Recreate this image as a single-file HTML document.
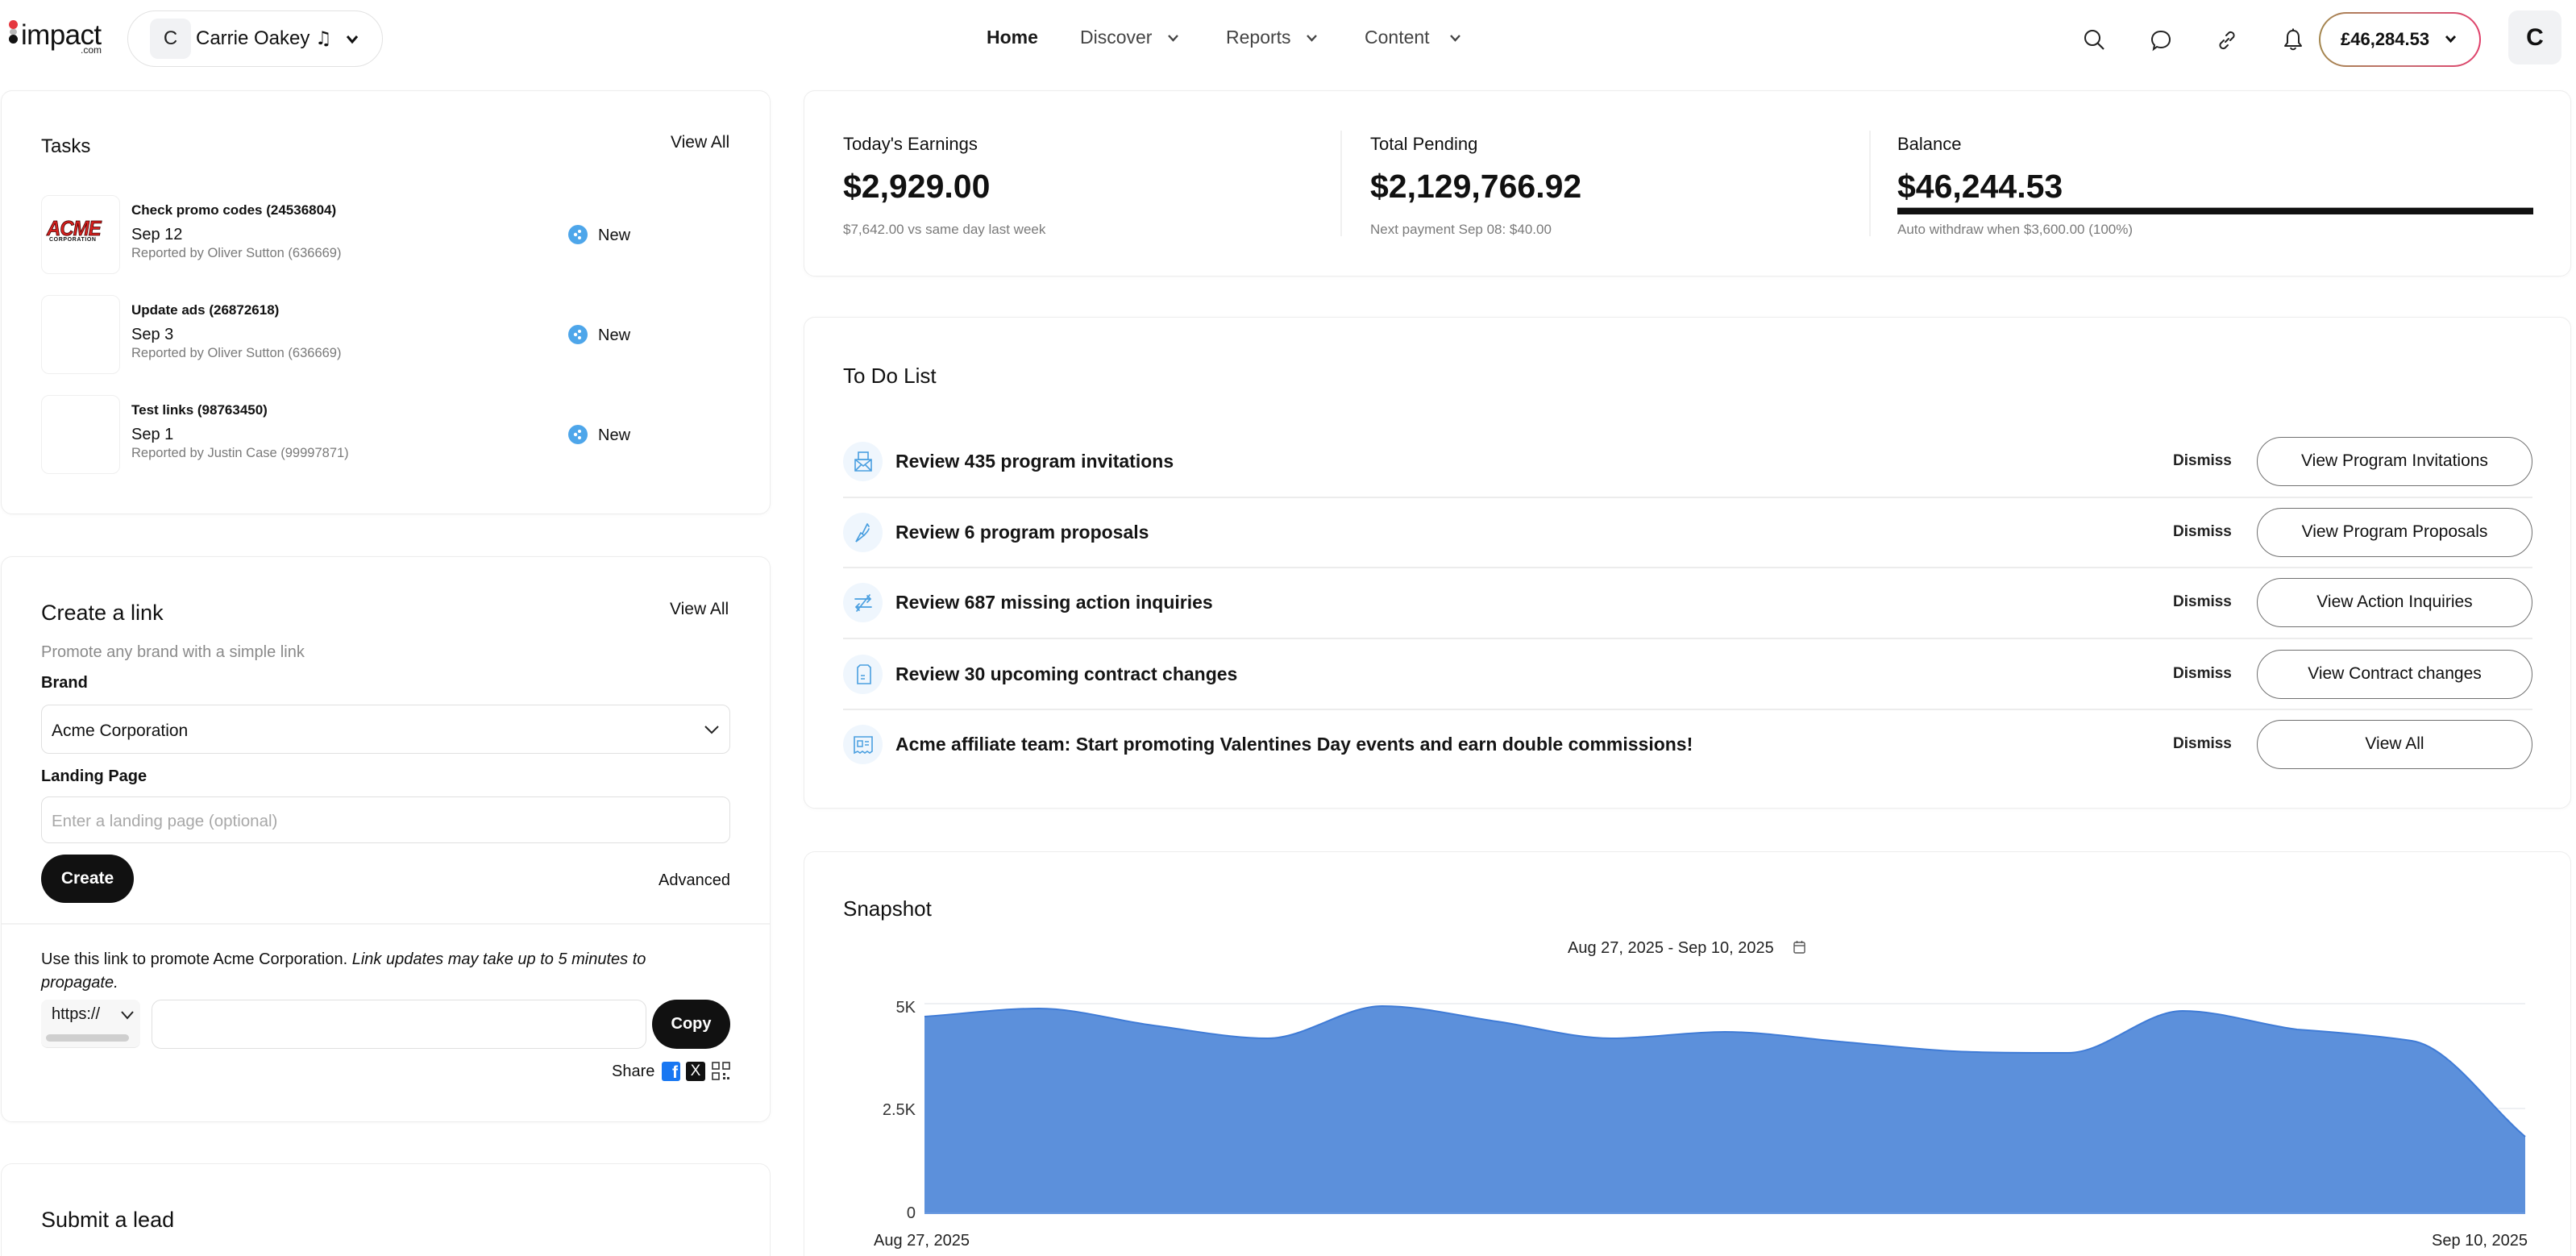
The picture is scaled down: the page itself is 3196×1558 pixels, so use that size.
<!DOCTYPE html>
<html><head><meta charset="utf-8">
<style>
*{margin:0;padding:0;box-sizing:border-box}
html,body{width:3196px;height:1558px;overflow:hidden;background:#fff;font-family:"Liberation Sans",Arial,sans-serif;color:#111}
#wrap{position:relative;width:3196px;height:1558px;overflow:hidden;background:#fff}
.a{position:absolute}
.t{position:absolute;white-space:nowrap;line-height:1}
.card{position:absolute;background:#fff;border:1.5px solid #ededed;border-radius:14px;box-shadow:0 1px 4px rgba(0,0,0,0.03)}
.open{border-bottom:none;border-radius:14px 14px 0 0;box-shadow:none}
.b{font-weight:bold}
.g{color:#7a7a7a}
.sep{position:absolute;left:1046px;width:2096px;height:2px;background:#ececec}
.btn{position:absolute;left:2800px;width:342px;height:61px;border:1.5px solid #707070;border-radius:31px;font-size:21px;line-height:58px;text-align:center;color:#111;background:#fff}
.dis{position:absolute;left:2696px;font-size:19px;font-weight:bold;line-height:1;color:#222}
.ic{position:absolute;left:1046px;width:49px;height:49px;border-radius:50%;background:#eff6fd}
.rowt{position:absolute;left:1111px;font-size:23px;font-weight:bold;line-height:1;white-space:nowrap;color:#151515}
.nw{position:absolute;left:705px;width:24px;height:24px;border-radius:50%;background:#4ea6ea}
.tb{position:absolute;left:51px;width:98px;height:98px;border:1.5px solid #efefef;border-radius:10px;background:#fff}
</style></head><body><div id="wrap">

<!-- HEADER -->
<div class="a" style="left:11px;top:25px;width:11px;height:11px;border-radius:50%;background:#e5383f"></div>
<div class="a" style="left:12px;top:36px;width:9px;height:7px;border-radius:4px;background:#b9b9b9"></div>
<div class="a" style="left:11px;top:43px;width:11px;height:11px;border-radius:50%;background:#111"></div>
<div class="t" style="left:26px;top:26px;font-size:35px;letter-spacing:-0.6px;color:#111">impact</div>
<div class="t" style="left:100px;top:56px;font-size:12px;color:#222">.com</div>

<div class="a" style="left:158px;top:13px;width:317px;height:70px;border:1.5px solid #e2e2e2;border-radius:35px"></div>
<div class="a" style="left:186px;top:23px;width:51px;height:50px;background:#f1f2f4;border-radius:10px;font-size:24px;line-height:50px;text-align:center;color:#222">C</div>
<div class="t" style="left:243px;top:36px;font-size:24px;color:#111">Carrie Oakey <span style="font-family:'DejaVu Sans',sans-serif;font-size:23px">♫</span></div>
<svg class="a" style="left:429px;top:43px" width="16" height="12" viewBox="0 0 16 12"><polyline points="2,2 8,9 14,2" fill="none" stroke="#111" stroke-width="3"/></svg>

<div class="t b" style="left:1224px;top:35px;font-size:23px;color:#1a1a1a">Home</div>
<div class="t" style="left:1340px;top:35px;font-size:23px;color:#444">Discover</div>
<svg class="a" style="left:1448px;top:42px" width="15" height="10" viewBox="0 0 15 10"><polyline points="2,2 7.5,8 13,2" fill="none" stroke="#444" stroke-width="2.4"/></svg>
<div class="t" style="left:1521px;top:35px;font-size:23px;color:#444">Reports</div>
<svg class="a" style="left:1620px;top:42px" width="15" height="10" viewBox="0 0 15 10"><polyline points="2,2 7.5,8 13,2" fill="none" stroke="#444" stroke-width="2.4"/></svg>
<div class="t" style="left:1693px;top:35px;font-size:23px;color:#444">Content</div>
<svg class="a" style="left:1798px;top:42px" width="15" height="10" viewBox="0 0 15 10"><polyline points="2,2 7.5,8 13,2" fill="none" stroke="#444" stroke-width="2.4"/></svg>

<!-- right icons -->
<svg class="a" style="left:2584px;top:35px" width="30" height="30" viewBox="0 0 30 30"><circle cx="12" cy="12" r="9" fill="none" stroke="#222" stroke-width="2"/><line x1="18.5" y1="18.5" x2="26" y2="26" stroke="#222" stroke-width="2.2"/></svg>
<svg class="a" style="left:2666px;top:35px" width="30" height="30" viewBox="0 0 30 30"><path d="M15 4 C22 4 26 8.5 26 14 C26 19.5 22 24 15 24 C13 24 11.5 23.6 10 23 L6 26 L7 21 C5 19 4 16.6 4 14 C4 8.5 8 4 15 4 Z" fill="none" stroke="#222" stroke-width="2"/></svg>
<svg class="a" style="left:2748px;top:35px" width="30" height="30" viewBox="0 0 30 30"><path d="M13 17 L17 13 M11 15 L7 19 A4 4 0 0 0 12.5 24.5 L16 21 M19 15 L23 11 A4 4 0 0 0 17.5 5.5 L14 9" fill="none" stroke="#222" stroke-width="2" stroke-linecap="round"/></svg>
<svg class="a" style="left:2830px;top:34px" width="30" height="32" viewBox="0 0 30 32"><path d="M15 4 C10 4 8 8 8 12 L8 19 L5 23 L25 23 L22 19 L22 12 C22 8 20 4 15 4 Z" fill="none" stroke="#222" stroke-width="2" stroke-linejoin="round"/><path d="M12 25 C12.5 28 17.5 28 18 25" fill="none" stroke="#222" stroke-width="2"/><line x1="15" y1="1.5" x2="15" y2="4" stroke="#222" stroke-width="2"/></svg>

<div class="a" style="left:2877px;top:15px;width:201px;height:68px;border-radius:34px;border:2px solid transparent;background:linear-gradient(#fff,#fff) padding-box,linear-gradient(90deg,#a3874e,#c86a72 55%,#e0406a) border-box"></div>
<div class="t b" style="left:2904px;top:38px;font-size:22px;color:#111">£46,284.53</div>
<svg class="a" style="left:3033px;top:43px" width="15" height="11" viewBox="0 0 15 11"><polyline points="2,2 7.5,8 13,2" fill="none" stroke="#111" stroke-width="2.8"/></svg>
<div class="a b" style="left:3112px;top:13px;width:66px;height:67px;background:#f1f2f4;border-radius:12px;font-size:30px;line-height:67px;text-align:center;color:#111">C</div>

<!-- LEFT: TASKS -->
<div class="card" style="left:1px;top:112px;width:955px;height:526px"></div>
<div class="t" style="left:51px;top:170px;font-size:24px">Tasks</div>
<div class="t" style="left:832px;top:166px;font-size:21px">View All</div>

<div class="tb" style="top:242px"></div>
<div class="t b" style="left:58px;top:270px;font-size:26px;font-style:italic;color:#d9211f;letter-spacing:-1px;transform:scaleX(0.92);transform-origin:left;-webkit-text-stroke:0.8px #3a0000">ACME</div>
<div class="t b" style="left:61px;top:294px;font-size:7px;letter-spacing:0.6px;color:#111">CORPORATION</div>
<div class="tb" style="top:366px"></div>
<div class="tb" style="top:490px"></div>

<div class="t b" style="left:163px;top:252px;font-size:17px">Check promo codes (24536804)</div>
<div class="t" style="left:163px;top:281px;font-size:20px">Sep 12</div>
<div class="t g" style="left:163px;top:306px;font-size:16.5px">Reported by Oliver Sutton (636669)</div>
<div class="t b" style="left:163px;top:376px;font-size:17px">Update ads (26872618)</div>
<div class="t" style="left:163px;top:405px;font-size:20px">Sep 3</div>
<div class="t g" style="left:163px;top:430px;font-size:16.5px">Reported by Oliver Sutton (636669)</div>
<div class="t b" style="left:163px;top:500px;font-size:17px">Test links (98763450)</div>
<div class="t" style="left:163px;top:529px;font-size:20px">Sep 1</div>
<div class="t g" style="left:163px;top:554px;font-size:16.5px">Reported by Justin Case (99997871)</div>

<div class="nw" style="top:279px"></div><div class="t" style="left:742px;top:282px;font-size:20px">New</div>
<div class="nw" style="top:403px"></div><div class="t" style="left:742px;top:406px;font-size:20px">New</div>
<div class="nw" style="top:527px"></div><div class="t" style="left:742px;top:530px;font-size:20px">New</div>
<svg class="a" style="left:705px;top:279px" width="24" height="24"><circle cx="9" cy="12" r="2.2" fill="#fff"/><circle cx="14" cy="8" r="2" fill="#fff"/><circle cx="14" cy="16" r="2" fill="#fff"/></svg>
<svg class="a" style="left:705px;top:403px" width="24" height="24"><circle cx="9" cy="12" r="2.2" fill="#fff"/><circle cx="14" cy="8" r="2" fill="#fff"/><circle cx="14" cy="16" r="2" fill="#fff"/></svg>
<svg class="a" style="left:705px;top:527px" width="24" height="24"><circle cx="9" cy="12" r="2.2" fill="#fff"/><circle cx="14" cy="8" r="2" fill="#fff"/><circle cx="14" cy="16" r="2" fill="#fff"/></svg>

<!-- LEFT: CREATE A LINK -->
<div class="card" style="left:1px;top:690px;width:955px;height:702px"></div>
<div class="t" style="left:51px;top:747px;font-size:27px">Create a link</div>
<div class="t" style="left:831px;top:745px;font-size:21px">View All</div>
<div class="t" style="left:51px;top:799px;font-size:20px;color:#8a8a8a">Promote any brand with a simple link</div>
<div class="t b" style="left:51px;top:837px;font-size:20px">Brand</div>
<div class="a" style="left:51px;top:874px;width:855px;height:61px;border:1.5px solid #e0e0e0;border-radius:10px"></div>
<div class="t" style="left:64px;top:896px;font-size:21px">Acme Corporation</div>
<svg class="a" style="left:873px;top:899px" width="20" height="13" viewBox="0 0 20 13"><polyline points="2,2 10,10 18,2" fill="none" stroke="#222" stroke-width="2"/></svg>
<div class="t b" style="left:51px;top:953px;font-size:20px">Landing Page</div>
<div class="a" style="left:51px;top:988px;width:855px;height:58px;border:1.5px solid #e0e0e0;border-radius:10px"></div>
<div class="t" style="left:64px;top:1009px;font-size:20.5px;color:#a8a8a8">Enter a landing page (optional)</div>
<div class="a b" style="left:51px;top:1060px;width:115px;height:60px;border-radius:30px;background:#111;color:#fff;font-size:21px;line-height:60px;text-align:center">Create</div>
<div class="t" style="left:817px;top:1082px;font-size:20px">Advanced</div>
<div class="a" style="left:2px;top:1145px;width:953px;height:1.5px;background:#f2f2f2"></div>
<div class="a" style="left:51px;top:1176px;font-size:20px;line-height:29px;white-space:nowrap">Use this link to promote Acme Corporation. <i>Link updates may take up to 5 minutes to</i><br><i>propagate.</i></div>
<div class="a" style="left:51px;top:1240px;width:123px;height:60px;border-radius:8px;background:#f7f7f7;border-bottom:1.5px solid #e8e8e8"></div>
<div class="t" style="left:64px;top:1248px;font-size:20px">https://</div>
<svg class="a" style="left:149px;top:1253px" width="18" height="12" viewBox="0 0 18 12"><polyline points="2,2 9,10 16,2" fill="none" stroke="#222" stroke-width="2"/></svg>
<div class="a" style="left:57px;top:1283px;width:103px;height:9px;border-radius:5px;background:#cfcfcf"></div>
<div class="a" style="left:188px;top:1240px;width:614px;height:61px;border:1.5px solid #e0e0e0;border-radius:12px"></div>
<div class="a b" style="left:809px;top:1240px;width:97px;height:61px;border-radius:31px;background:#111;color:#fff;font-size:20px;line-height:61px;text-align:center">Copy</div>
<div class="t" style="left:759px;top:1319px;font-size:20px">Share</div>
<div class="a" style="left:821px;top:1317px;width:23px;height:24px;background:#1877f2;border-radius:3px;color:#fff;font-weight:bold;font-size:21px;line-height:28px;text-align:right;padding-right:3px;overflow:hidden">f</div>
<div class="a" style="left:851px;top:1317px;width:24px;height:24px;background:#111;border-radius:3px;color:#fff;font-size:19px;line-height:24px;text-align:center">X</div>
<svg class="a" style="left:883px;top:1317px" width="23" height="24" viewBox="0 0 23 24"><rect x="1" y="1" width="8" height="8" fill="none" stroke="#333" stroke-width="1.6"/><rect x="14" y="1" width="8" height="8" fill="none" stroke="#333" stroke-width="1.6"/><rect x="1" y="14" width="8" height="8" fill="none" stroke="#333" stroke-width="1.6"/><rect x="14" y="14" width="3" height="3" fill="#333"/><rect x="19" y="19" width="3" height="3" fill="#333"/><rect x="14" y="19" width="3" height="3" fill="#333"/></svg>

<!-- LEFT: SUBMIT A LEAD -->
<div class="card open" style="left:1px;top:1443px;width:955px;height:115px"></div>
<div class="t" style="left:51px;top:1500px;font-size:27px">Submit a lead</div>

<!-- RIGHT: EARNINGS -->
<div class="card" style="left:997px;top:112px;width:2193px;height:231px"></div>
<div class="a" style="left:1663px;top:162px;width:1.5px;height:131px;background:#f0f0f0"></div>
<div class="a" style="left:2319px;top:162px;width:1.5px;height:131px;background:#f0f0f0"></div>
<div class="t" style="left:1046px;top:168px;font-size:22px">Today's Earnings</div>
<div class="t b" style="left:1046px;top:211px;font-size:41px">$2,929.00</div>
<div class="t g" style="left:1046px;top:276px;font-size:17px">$7,642.00 vs same day last week</div>
<div class="t" style="left:1700px;top:168px;font-size:22px">Total Pending</div>
<div class="t b" style="left:1700px;top:211px;font-size:41px">$2,129,766.92</div>
<div class="t g" style="left:1700px;top:276px;font-size:17px">Next payment Sep 08: $40.00</div>
<div class="t" style="left:2354px;top:168px;font-size:22px">Balance</div>
<div class="t b" style="left:2354px;top:211px;font-size:41px">$46,244.53</div>
<div class="a" style="left:2354px;top:257px;width:789px;height:9px;background:#111;border-top:1.5px solid #aaa"></div>
<div class="t g" style="left:2354px;top:276px;font-size:17px">Auto withdraw when $3,600.00 (100%)</div>

<!-- RIGHT: TO DO -->
<div class="card" style="left:997px;top:393px;width:2193px;height:610px"></div>
<div class="t" style="left:1046px;top:453px;font-size:26px">To Do List</div>

<div class="sep" style="top:616px"></div>
<div class="sep" style="top:703px"></div>
<div class="sep" style="top:791px"></div>
<div class="sep" style="top:879px"></div>

<div class="ic" style="top:548px"></div>
<svg class="a" style="left:1058px;top:559px" width="26" height="27" viewBox="0 0 26 27"><rect x="7" y="2" width="12" height="9" fill="none" stroke="#4a9fe0" stroke-width="1.6"/><path d="M3 11 L3 25 L23 25 L23 11 Z M3 11 L13 19 L23 11 M3 25 L11 17 M23 25 L15 17" fill="none" stroke="#4a9fe0" stroke-width="1.6"/></svg>
<div class="rowt" style="top:561px">Review 435 program invitations</div>
<div class="dis" style="top:562px">Dismiss</div>
<div class="btn" style="top:542px">View Program Invitations</div>

<div class="ic" style="top:636px"></div>
<svg class="a" style="left:1058px;top:647px" width="26" height="27" viewBox="0 0 26 27"><path d="M4 25 L10 14 L14 17 Z M12 15 L18 3 M18 3 L20 6 M14 17 C17 14 19 12 20 9" fill="none" stroke="#4a9fe0" stroke-width="1.7" stroke-linecap="round"/></svg>
<div class="rowt" style="top:649px">Review 6 program proposals</div>
<div class="dis" style="top:650px">Dismiss</div>
<div class="btn" style="top:630px">View Program Proposals</div>

<div class="ic" style="top:723px"></div>
<svg class="a" style="left:1058px;top:735px" width="26" height="26" viewBox="0 0 26 26"><path d="M3 8 L22 8 M18 4 L22 8 L18 12 M23 18 L4 18 M8 14 L4 18 L8 22 M5 23 L21 3" fill="none" stroke="#4a9fe0" stroke-width="1.7" stroke-linecap="round"/></svg>
<div class="rowt" style="top:736px">Review 687 missing action inquiries</div>
<div class="dis" style="top:737px">Dismiss</div>
<div class="btn" style="top:717px">View Action Inquiries</div>

<div class="ic" style="top:812px"></div>
<svg class="a" style="left:1059px;top:823px" width="24" height="27" viewBox="0 0 24 27"><path d="M8 2 L18 2 L21 5 L21 25 L5 25 L5 5 Z" fill="none" stroke="#4a9fe0" stroke-width="1.6"/><path d="M9 15 L14 15 M9 19 L14 19" stroke="#4a9fe0" stroke-width="1.6"/></svg>
<div class="rowt" style="top:825px">Review 30 upcoming contract changes</div>
<div class="dis" style="top:826px">Dismiss</div>
<div class="btn" style="top:806px">View Contract changes</div>

<div class="ic" style="top:899px"></div>
<svg class="a" style="left:1057px;top:911px" width="28" height="26" viewBox="0 0 28 26"><path d="M3 3 L25 3 L25 21 L22 23 L19 21 L16 23 L13 21 L10 23 L7 21 L3 23 Z" fill="none" stroke="#4a9fe0" stroke-width="1.6"/><rect x="7" y="8" width="6" height="7" fill="none" stroke="#4a9fe0" stroke-width="1.5"/><path d="M16 9 L21 9 M16 13 L21 13" stroke="#4a9fe0" stroke-width="1.5"/></svg>
<div class="rowt" style="top:912px">Acme affiliate team: Start promoting Valentines Day events and earn double commissions!</div>
<div class="dis" style="top:913px">Dismiss</div>
<div class="btn" style="top:893px">View All</div>

<!-- RIGHT: SNAPSHOT -->
<div class="card open" style="left:997px;top:1056px;width:2193px;height:502px"></div>
<div class="t" style="left:1046px;top:1114px;font-size:26px">Snapshot</div>
<div class="t" style="left:1945px;top:1166px;font-size:20px;color:#222">Aug 27, 2025 - Sep 10, 2025</div>
<svg class="a" style="left:2225px;top:1166px" width="15" height="17" viewBox="0 0 15 17"><rect x="1" y="3" width="13" height="13" rx="1.5" fill="none" stroke="#555" stroke-width="1.4"/><line x1="1" y1="7" x2="14" y2="7" stroke="#555" stroke-width="1.4"/><line x1="4.5" y1="1" x2="4.5" y2="4" stroke="#555" stroke-width="1.4"/><line x1="10.5" y1="1" x2="10.5" y2="4" stroke="#555" stroke-width="1.4"/></svg>

<div class="t" style="left:1096px;top:1240px;width:40px;text-align:right;font-size:20px;color:#333">5K</div>
<div class="t" style="left:1076px;top:1367px;width:60px;text-align:right;font-size:20px;color:#333">2.5K</div>
<div class="t" style="left:1096px;top:1495px;width:40px;text-align:right;font-size:20px;color:#333">0</div>
<div class="t" style="left:1084px;top:1529px;font-size:20px;color:#222">Aug 27, 2025</div>
<div class="t" style="left:2996px;top:1529px;width:140px;text-align:right;font-size:20px;color:#222">Sep 10, 2025</div>

<svg class="a" style="left:1100px;top:1230px" width="2060" height="290" viewBox="1100 1230 2060 290">
<line x1="1147" y1="1245" x2="3133" y2="1245" stroke="#eef0f3" stroke-width="2"/>
<line x1="1147" y1="1375" x2="3133" y2="1375" stroke="#eef0f3" stroke-width="2"/>
<path d="M1147,1505 L1147,1261 C1194,1257.7 1242,1251 1289,1251 C1336,1251 1384,1266 1431,1272 C1478,1278 1526,1288 1573,1288 C1620,1288 1668,1248 1715,1248 C1762,1248 1810,1260.3 1857,1267 C1904,1273.7 1952,1288 1999,1288 C2046,1288 2093,1280 2140,1280 C2187,1280 2235,1288 2282,1292 C2329,1296 2377,1301.7 2424,1304 C2471,1306.3 2519,1306 2566,1306 C2613,1306 2661,1254 2708,1254 C2755,1254 2803,1271 2850,1277 C2897,1280.3 2945,1284.3 2992,1291 C3039,1297.7 3086,1370 3133,1410 L3133,1505 Z" fill="#5c90db"/>
<path d="M1147,1261 C1194,1257.7 1242,1251 1289,1251 C1336,1251 1384,1266 1431,1272 C1478,1278 1526,1288 1573,1288 C1620,1288 1668,1248 1715,1248 C1762,1248 1810,1260.3 1857,1267 C1904,1273.7 1952,1288 1999,1288 C2046,1288 2093,1280 2140,1280 C2187,1280 2235,1288 2282,1292 C2329,1296 2377,1301.7 2424,1304 C2471,1306.3 2519,1306 2566,1306 C2613,1306 2661,1254 2708,1254 C2755,1254 2803,1271 2850,1277 C2897,1280.3 2945,1284.3 2992,1291 C3039,1297.7 3086,1370 3133,1410" fill="none" stroke="#3f7bd6" stroke-width="2"/>
<line x1="1147" y1="1505" x2="3133" y2="1505" stroke="#6a9ae0" stroke-width="2"/>
</svg>

</div></body></html>
